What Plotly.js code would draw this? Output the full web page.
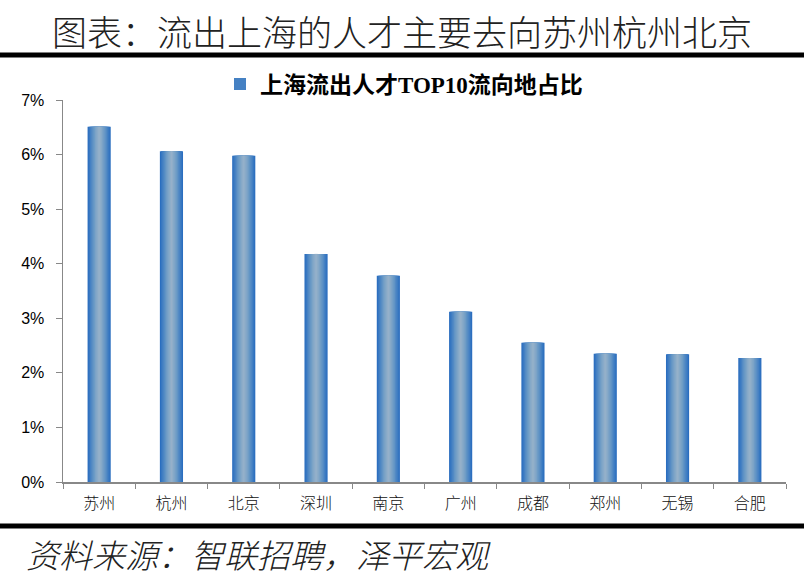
<!DOCTYPE html>
<html>
<head>
<meta charset="utf-8">
<script src="https://cdn.plot.ly/plotly-3.0.1.min.js"></script>
<style>
html,body{margin:0;padding:0;background:#fff;}
#chart{width:804px;height:582px;}
</style>
</head>
<body>
<div id="chart"></div>
<script>
// ---- data ----
const cities = ["苏州","杭州","北京","深圳","南京","广州","成都","郑州","无锡","合肥"];
const shares = [6.51, 6.06, 5.98, 4.18, 3.78, 3.12, 2.55, 2.35, 2.34, 2.27]; // %
const yTickVals = [0,1,2,3,4,5,6,7];
const yTickText = ["0%","1%","2%","3%","4%","5%","6%","7%"];
const seriesName = "上海流出人才TOP10流向地占比";
const mainTitle = "图表：流出上海的人才主要去向苏州杭州北京";
const sourceText = "资料来源：智联招聘，泽平宏观";

// ---- style: layered bars to imitate the horizontal gradient ----
const layers = [
  {w:0.320, c:"#2B6EBF"},
  {w:0.290, c:"#3777C1"},
  {w:0.255, c:"#4581C3"},
  {w:0.220, c:"#538AC4"},
  {w:0.185, c:"#6194C5"},
  {w:0.150, c:"#6E9CC6"},
  {w:0.115, c:"#7BA3C7"},
  {w:0.080, c:"#86A9C8"},
  {w:0.045, c:"#8FAEC9"},
  {w:0.015, c:"#96B1CA"}
];

const traces = layers.map((L,i)=>({
  type:"bar",
  x:cities,
  y:shares,
  width:L.w,
  name:seriesName,
  marker:{color:L.c, line:{width:0}},
  showlegend: i===2,
  hoverinfo: i===0 ? "x+y" : "skip"
}));

const W=804, H=582, ml=63, mr=18, mt=100, mb=100;
const pw=W-ml-mr, ph=H-mt-mb;
const px = v => (v-ml)/pw;
const py = v => (H-mb-v)/ph;

const layout = {
  width:W, height:H,
  margin:{l:ml, r:mr, t:mt, b:mb, pad:0},
  paper_bgcolor:"#fff", plot_bgcolor:"#fff",
  barmode:"overlay",
  font:{family:"Noto Sans CJK SC, sans-serif", color:"#000"},
  title:{
    text:mainTitle,
    font:{family:"Noto Sans CJK SC, sans-serif", size:35, color:"#222", weight:300},
    x:0.5, xref:"container", xanchor:"center",
    y:1-34/H, yref:"container", yanchor:"middle"
  },
  showlegend:true,
  legend:{
    orientation:"h",
    x:px(404), xanchor:"center",
    y:py(84), yanchor:"middle",
    font:{family:"Liberation Serif, Noto Sans CJK SC, serif", size:23, color:"#000", weight:"bold"},
    itemwidth:30,
    bgcolor:"rgba(0,0,0,0)"
  },
  xaxis:{
    type:"category",
    tickson:"boundaries",
    ticks:"outside", ticklen:5, tickwidth:1, tickcolor:"#888",
    showline:true, linecolor:"#888", linewidth:1.5,
    showgrid:false, zeroline:false,
    tickfont:{family:"Noto Sans CJK SC, sans-serif", size:16, color:"#111", weight:300},
    ticklabelstandoff:6,
    fixedrange:true
  },
  yaxis:{
    range:[0,7],
    tickmode:"array",
    tickvals:yTickVals,
    ticktext:yTickText,
    ticks:"outside", ticklen:6, tickwidth:1, tickcolor:"#888",
    showline:true, linecolor:"#888", linewidth:1.5,
    showgrid:false, zeroline:false,
    tickfont:{family:"Liberation Sans, Arial, sans-serif", size:16, color:"#000"},
    ticklabelstandoff:8,
    fixedrange:true
  },
  shapes:[
    {type:"line", xref:"paper", yref:"paper", x0:px(0), x1:px(W), y0:py(55), y1:py(55), line:{color:"#000", width:5}},
    {type:"line", xref:"paper", yref:"paper", x0:px(0), x1:px(W), y0:py(526), y1:py(526), line:{color:"#000", width:5}}
  ],
  annotations:[
    {text:sourceText, xref:"paper", yref:"paper", x:px(24), y:py(554), xanchor:"left", yanchor:"middle", showarrow:false,
     font:{family:"Noto Sans CJK SC, sans-serif", size:33, color:"#222", style:"italic", weight:300}}
  ]
};

Plotly.newPlot("chart", traces, layout, {displayModeBar:false, staticPlot:true});
</script>
</body>
</html>
